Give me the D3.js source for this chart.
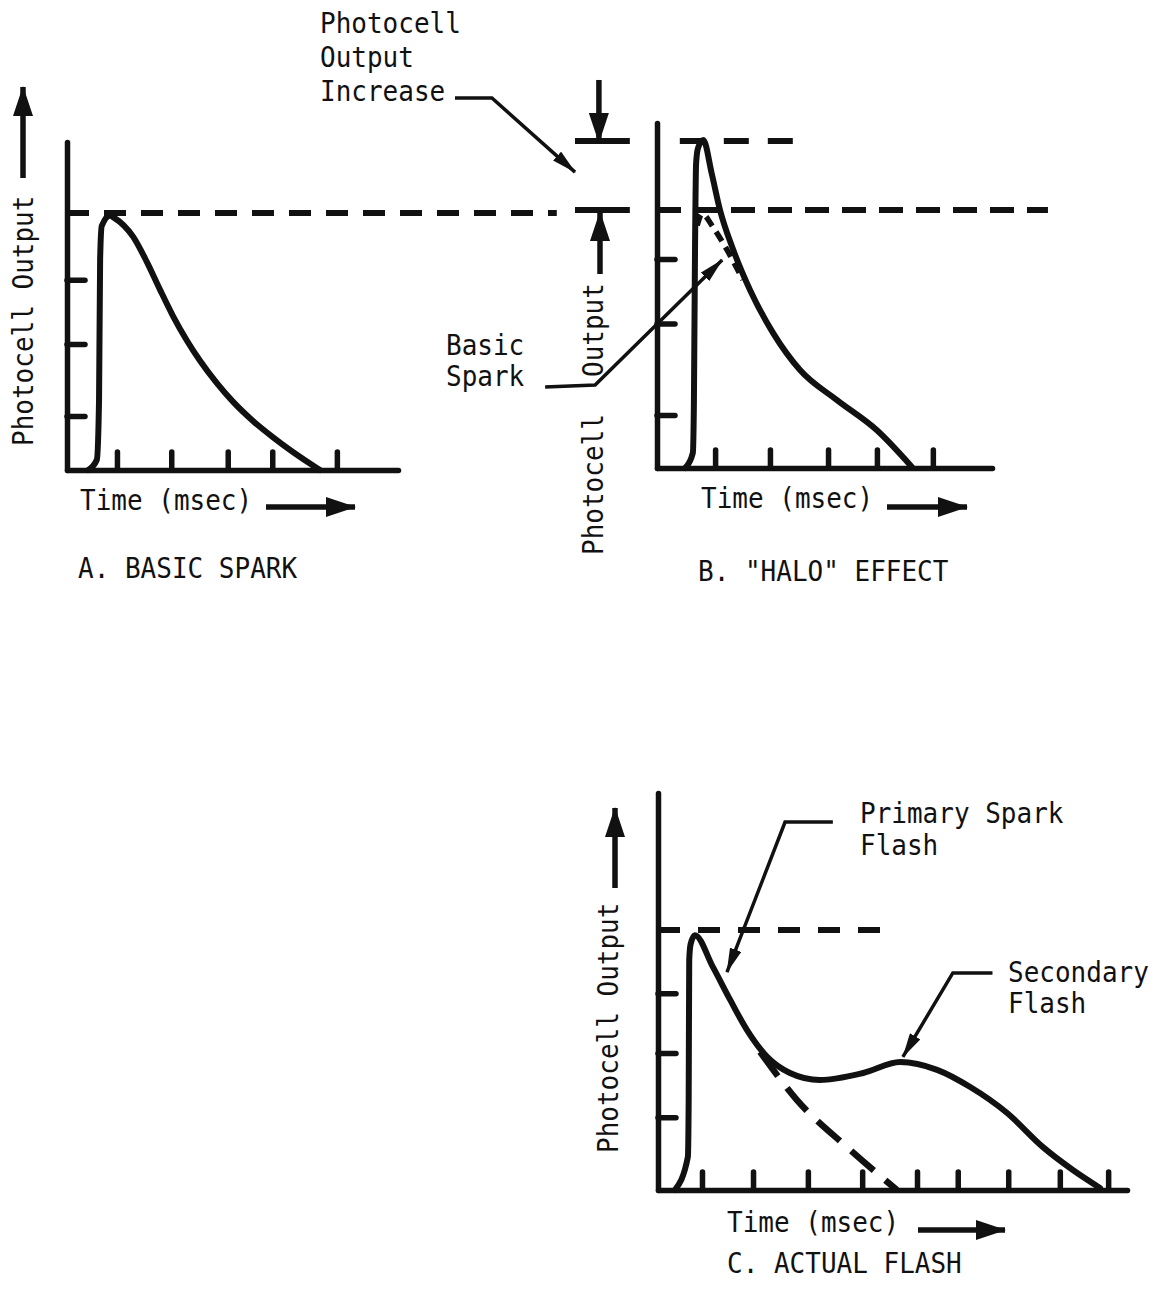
<!DOCTYPE html>
<html>
<head>
<meta charset="utf-8">
<script src="https://cdn.jsdelivr.net/npm/d3@7"></script>
<style>
body { margin: 0; background: #fff; }
text { font-family: "DejaVu Sans Mono", monospace; font-size: 28.5px; fill: #111; }
</style>
</head>
<body>
<div id="chart"></div>
<script>
// values are in "tick units" on x (time) and peak-normalised output on y

// A. basic spark
var sparkA = [[0.39,0],[0.55,0.04],[0.59,0.27],[0.61,0.82],[0.64,0.95],[0.80,0.99],[0.85,0.984],[1.22,0.907],
              [1.47,0.81],[1.71,0.703],[1.95,0.60],[2.21,0.503],[2.45,0.425],[2.76,0.338],[3.06,0.265],
              [3.43,0.19],[3.79,0.128],[4.16,0.07],[4.60,0.008],[4.66,0]];
var ticksXA = [0.92, 1.92, 2.96, 3.78, 4.97];
var ticksYA = [0.21, 0.49, 0.74];

// B. halo effect
var haloB = [[0.52,0],[0.66,0.058],[0.68,0.26],[0.70,0.845],[0.72,1.18],[0.755,1.24],[0.853,1.271],[1.007,1.142],
             [1.16,1.0],[1.405,0.845],[1.713,0.69],[2.142,0.522],[2.634,0.38],[3.309,0.264],[4.046,0.147],[4.69,0.005]];
var basicB = [[0.74,0.94],[0.83,0.985],[1.03,0.934],[1.29,0.845],[1.58,0.73]];
var ticksXB = [1.07, 2.08, 3.15, 4.05, 5.08];
var ticksYB = [0.205, 0.56, 0.81];
var haloLevel = 1.267;

// C. actual flash
var flashC = [[0.31,0],[0.55,0.127],[0.565,0.346],[0.575,0.885],[0.60,0.945],[0.68,0.98],[1.01,0.858],[1.33,0.731],
              [1.64,0.615],[2.01,0.512],[2.43,0.45],[2.98,0.423],[3.78,0.45],[4.46,0.492],[5.14,0.462],
              [5.75,0.396],[6.43,0.296],[7.09,0.165],[7.64,0.077],[8.14,0.008]];
var primaryC = [[1.88,0.531],[2.56,0.346],[3.48,0.165],[4.40,0]];
var ticksXC = [0.81, 1.75, 2.76, 3.76, 4.77, 5.52, 6.45, 7.40, 8.29];
var ticksYC = [0.28, 0.527, 0.757];

// annotation leaders (panel units): [start, elbow, tip]
var leaderIncrease = [[-3.72,1.434],[-3.04,1.434],[-1.51,1.147]];
var leaderBasic = [[-2.06,0.314],[-1.14,0.322],[1.20,0.806]];
var leaderPrimary = [[3.22,1.415],[2.34,1.415],[1.27,0.838]];
var leaderSecondary = [[6.16,0.835],[5.43,0.835],[4.51,0.512]];

var W = 1165, H = 1302;
var adv = 15.65; // typewriter character pitch
var ink = "#111";
var svg = d3.select("#chart").append("svg").attr("width", W).attr("height", H);
var defs = svg.append("defs");

function marker(id, len, wid) {
  defs.append("marker")
    .attr("id", id)
    .attr("markerUnits", "userSpaceOnUse")
    .attr("viewBox", "0 " + (-wid / 2) + " " + len + " " + wid)
    .attr("refX", len - 1).attr("refY", 0)
    .attr("markerWidth", len).attr("markerHeight", wid)
    .attr("orient", "auto")
    .append("path")
    .attr("d", "M0," + (-wid / 2) + "L" + len + ",0L0," + (wid / 2) + "Z")
    .attr("fill", ink);
}
marker("bigHead", 30, 20);
marker("smallHead", 25, 12);

function makePanel(p) {
  var x = d3.scaleLinear().domain([0, p.xMax]).range([p.left, p.left + p.width]);
  var y = d3.scaleLinear().domain([0, p.yMax]).range([p.bottom, p.bottom - p.height]);
  var g = svg.append("g");
  g.append("g").attr("transform", "translate(0," + p.bottom + ")")
    .call(d3.axisBottom(x).tickValues(p.xTicks).tickSize(-18).tickSizeOuter(0).tickFormat(""));
  g.append("g").attr("transform", "translate(" + p.left + ",0)")
    .call(d3.axisLeft(y).tickValues(p.yTicks).tickSize(-18).tickSizeOuter(0).tickFormat(""));
  g.selectAll(".domain, .tick line")
    .attr("stroke", ink).attr("stroke-width", 5.5).attr("stroke-linecap", "round");
  var curve = d3.line().x(d => x(d[0])).y(d => y(d[1])).curve(d3.curveMonotoneX);
  var straight = d3.line().x(d => x(d[0])).y(d => y(d[1]));
  return {x: x, y: y, g: g, curve: curve, straight: straight};
}

function level(pn, y0, x0, x1, dash) {
  pn.g.append("line")
    .attr("x1", pn.x(x0)).attr("x2", pn.x(x1))
    .attr("y1", pn.y(y0)).attr("y2", pn.y(y0))
    .attr("stroke", ink).attr("stroke-width", 6)
    .attr("stroke-dasharray", dash || null);
}

function trace(pn, data, width, dash) {
  pn.g.append("path").attr("d", pn.curve(data))
    .attr("fill", "none").attr("stroke", ink).attr("stroke-width", width)
    .attr("stroke-linejoin", "round").attr("stroke-linecap", dash ? "butt" : "round")
    .attr("stroke-dasharray", dash || null);
}

function leader(pn, pts) {
  pn.g.append("path").attr("d", pn.straight(pts))
    .attr("fill", "none").attr("stroke", ink).attr("stroke-width", 3.5)
    .attr("marker-end", "url(#smallHead)");
}

function arrow(x1, y1, x2, y2) {
  svg.append("line").attr("x1", x1).attr("y1", y1).attr("x2", x2).attr("y2", y2)
    .attr("stroke", ink).attr("stroke-width", 5.5)
    .attr("marker-end", "url(#bigHead)");
}

function typed(s, x, y, rot) {
  var t = svg.append("text").attr("x", x).attr("y", y)
    .attr("textLength", s.length * adv).attr("lengthAdjust", "spacingAndGlyphs")
    .text(s);
  if (rot) t.attr("transform", "rotate(-90," + x + "," + y + ")");
  return t;
}

function label(lines, x, y, lh) {
  lines.forEach(function (s, i) { typed(s, x, y + i * lh); });
}

// ---------- panel A
var pA = makePanel({left: 67, bottom: 470, width: 331, height: 328, xMax: 331 / 54.3, yMax: 328 / 257,
                    xTicks: ticksXA, yTicks: ticksYA});
level(pA, 1, 0, 9.02, "22,15");
trace(pA, sparkA, 6);
typed("Photocell Output", 33, 446, true);
arrow(23, 178, 23, 87);
label(["Time (msec)"], 80, 510, 0);
arrow(266, 507, 355, 507);
label(["A. BASIC SPARK"], 78, 578, 0);

// ---------- panel B
var pB = makePanel({left: 657, bottom: 468, width: 335, height: 345, xMax: 335 / 54.3, yMax: 345 / 258,
                    xTicks: ticksXB, yTicks: ticksYB});
level(pB, 1, 0, 7.2, "24,13");
level(pB, haloLevel, 0.42, 2.6, "25,19");
// dimension marks for the increase
level(pB, haloLevel, -1.51, -0.50);
level(pB, 1, -1.51, -0.50);
arrow(pB.x(-1.07), pB.y(1.504), pB.x(-1.07), pB.y(haloLevel) + 1);
trace(pB, basicB, 5.5, "11,7");
trace(pB, haloB, 6);
leader(pB, leaderIncrease);
leader(pB, leaderBasic);
typed("Photocell", 603, 555, true);
typed("Output", 603, 377, true);
arrow(600, 274, 600, pB.y(1) + 2);
label(["Photocell", "Output", "Increase"], 320, 33, 34);
label(["Basic", "Spark"], 446, 355, 31);
label(["Time (msec)"], 701, 508, 0);
arrow(887, 507, 967, 507);
label(["B. \"HALO\" EFFECT"], 698, 581, 0);

// ---------- panel C
var pC = makePanel({left: 658, bottom: 1190, width: 469, height: 397, xMax: 469 / 54.3, yMax: 397 / 260,
                    xTicks: ticksXC, yTicks: ticksYC});
level(pC, 1, 0, 4.18, "22,18");
trace(pC, primaryC, 6.5, "30,15");
trace(pC, flashC, 6);
leader(pC, leaderPrimary);
leader(pC, leaderSecondary);
typed("Photocell Output", 618, 1153, true);
arrow(615, 888, 615, 808);
label(["Primary Spark", "Flash"], 860, 823, 32);
label(["Secondary", "Flash"], 1008, 982, 31);
label(["Time (msec)"], 727, 1232, 0);
arrow(918, 1230, 1005, 1230);
label(["C. ACTUAL FLASH"], 727, 1273, 0);
</script>
</body>
</html>
